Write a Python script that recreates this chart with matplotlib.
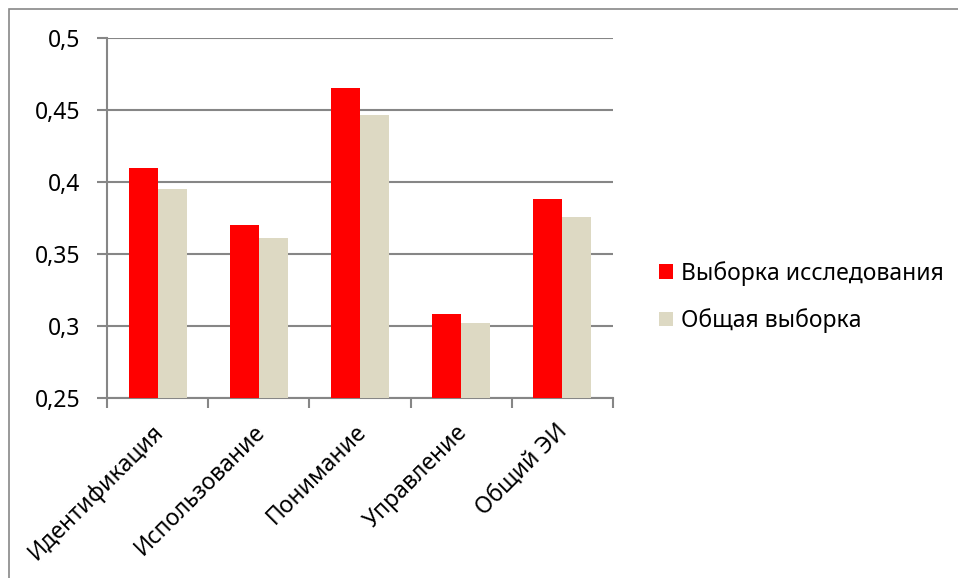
import numpy as np
import matplotlib.pyplot as plt
from matplotlib.patches import Rectangle

plt.rcParams['font.family'] = ['Noto Sans', 'DejaVu Sans']

categories = ['Идентификация', 'Использование', 'Понимание', 'Управление', 'Общий ЭИ']
study_sample = [0.41, 0.37, 0.465, 0.3085, 0.388]
general_sample = [0.395, 0.361, 0.4465, 0.302, 0.376]
y_ticks = [0.25, 0.3, 0.35, 0.4, 0.45, 0.5]
y_tick_labels = ['0,25', '0,3', '0,35', '0,4', '0,45', '0,5']
series_names = ['Выборка исследования', 'Общая выборка']

W, H = 958, 578
fig = plt.figure(figsize=(W / 100, H / 100), dpi=100)

# outer chart frame
fig.patches.append(Rectangle((9 / W, -0.1), 1.2, 1 - 9 / H + 0.1, transform=fig.transFigure,
                             fill=False, edgecolor='#888888', linewidth=1.2))

ax = fig.add_axes([107 / W, 1 - 398 / H, (613 - 107) / W, (398 - 38) / H])

grey = '#868686'
fs = 16.5
x = np.arange(len(categories))
width = 1 / 3.5
ax.bar(x - width / 2, study_sample, width, color='#ff0000', label=series_names[0], zorder=3)
ax.bar(x + width / 2, general_sample, width, color='#ddd9c3', label=series_names[1], zorder=3)

ax.set_xlim(-0.5, len(categories) - 0.5)
ax.set_ylim(0.25, 0.5)
ax.set_yticks(y_ticks)
ax.set_yticklabels(y_tick_labels, fontsize=fs)
ax.yaxis.grid(True, color=grey, linewidth=1.5, zorder=0)

# tick marks on category boundaries, rotated names under the centers
ax.set_xticks(np.arange(len(categories) + 1) - 0.5)
ax.set_xticklabels([])
for xi, name in zip(x, categories):
    ax.annotate(name, xy=(xi, 0), xycoords=('data', 'axes fraction'),
                xytext=(-6, -22), textcoords='offset pixels',
                rotation=45, rotation_mode='anchor', ha='right', va='top', fontsize=fs)
ax.tick_params(axis='x', length=7, width=1.5, color=grey)
ax.tick_params(axis='y', length=7, width=1.5, color=grey, pad=12)

for side in ['top', 'right']:
    ax.spines[side].set_visible(False)
for side in ['left', 'bottom']:
    ax.spines[side].set_color(grey)
    ax.spines[side].set_linewidth(1.5)

ax.legend(loc='center left', bbox_to_anchor=(650 / W, 1 - 297 / H), bbox_transform=fig.transFigure,
          frameon=False, fontsize=fs, handlelength=0.6, handleheight=0.6, handletextpad=0.35,
          labelspacing=1.0, borderaxespad=0)

fig.savefig('out.png', dpi=100)
